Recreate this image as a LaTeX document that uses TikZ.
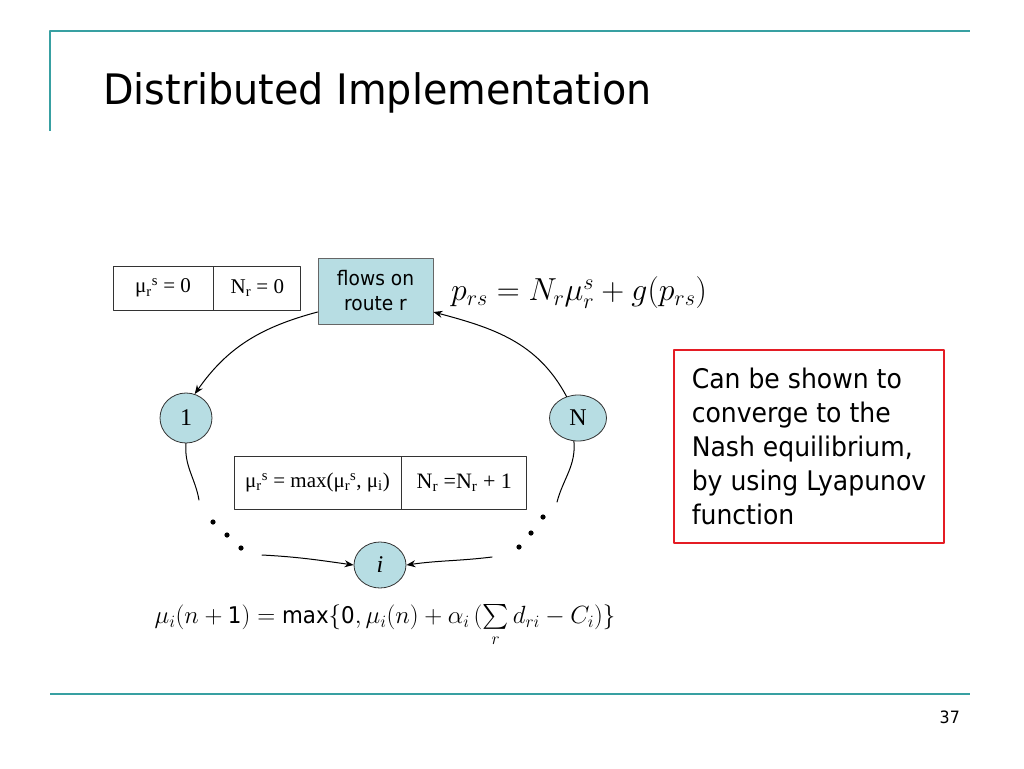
\documentclass[tikz,border=0pt]{standalone}
\usepackage{amsmath}
\usepackage{fontspec}
\usetikzlibrary{arrows.meta,positioning,shapes.geometric}
\newfontfamily\titlefont[FakeStretch=0.945]{DejaVu Sans}
\newfontfamily\bodyfont[FakeStretch=0.93]{DejaVu Sans}
\newfontfamily\timesfont{Liberation Serif}
\definecolor{slideteal}{RGB}{56,160,162}
\definecolor{nodeblue}{RGB}{183,221,227}
\definecolor{boxred}{RGB}{228,28,36}
\newcommand{\mur}{μ\textsubscript{r}\textsuperscript{s}}
\newcommand{\Nr}{N\textsubscript{r}}

\begin{document}
\begin{tikzpicture}[>={Stealth[length=9pt,width=7pt]}, x=1pt, y=-1pt, line cap=round, line join=round,
    every node/.style={inner sep=0pt},
    router/.style={ellipse, draw=black!80, fill=nodeblue, line width=0.8pt, font=\timesfont\fontsize{24}{24}\selectfont},
    cell/.style={rectangle, draw=black!80, line width=0.8pt, font=\timesfont\fontsize{21}{21}\selectfont},
    link/.style={->, line width=1pt}]
    \path[use as bounding box] (0,0) rectangle (1024,768);
    % slide frame
    \draw[slideteal, line width=2.5pt, line cap=butt] (50,131) -- (50,31) -- (970,31);
    \draw[slideteal, line width=2.5pt, line cap=butt] (50,694) -- (970,694);
    \node[font=\titlefont\fontsize{42}{42}\selectfont, anchor=base west] (title) at (103,104) {Distributed Implementation};
    \node[font=\bodyfont\fontsize{17}{17}\selectfont, anchor=base east] (page) at (960,723) {37};
    % route box and price
    \node[rectangle, draw=black!60, fill=nodeblue, line width=0.8pt, minimum width=115pt, minimum height=66pt,
          align=center, font=\bodyfont\fontsize{20}{25}\selectfont] (flow) at (375.5,291) {flows on\\route r};
    \node[anchor=west, font=\fontsize{24}{24}\selectfont] (price) at (451,293) {\scalebox{1.28}{$p_{rs} = N_r\mu_r^s + g(p_{rs})$}};
    \node[cell, minimum width=100pt, minimum height=44pt] (init1) at (163,288) {\mur\ = 0};
    \node[cell, minimum width=87pt, minimum height=44pt, right=0pt of init1] (init2) {\Nr\ = 0};
    % routers
    \node[router, minimum width=52pt, minimum height=50pt] (n1) at (186,418) {1};
    \node[router, minimum width=57pt, minimum height=46pt] (nN) at (578,418) {N};
    \node[router, minimum width=52pt, minimum height=46pt] (ni) at (380,565) {\itshape i};
    \node[cell, minimum width=167pt, minimum height=53pt] (upd1) at (317.5,482.5) {\mur\ = max(\mur, μ\textsubscript{i})};
    \node[cell, minimum width=125pt, minimum height=53pt, font=\timesfont\fontsize{22}{22}\selectfont, right=0pt of upd1] (upd2) {\Nr\ =\Nr\ + 1};
    % ends of the open arcs
    \coordinate (lend) at (199,500);
    \coordinate (rend) at (557,502);
    \coordinate (lstart) at (262,555);
    \coordinate (rstart) at (492,557);
    \draw[link] ([yshift=-21pt]flow.west) to[out=195, in=55] (n1.70);
    \draw[link] (nN.118) to[out=118, in=-15] ([yshift=-21pt]flow.east);
    \draw[line width=1pt] (n1.south) to[out=265, in=100] (lend);
    \draw[line width=1pt] (nN.260) to[out=275, in=75] (rend);
    \foreach \x/\y in {213/522, 227/535, 241/548, 543/517, 531/533, 519/547} \fill (\x,\y) circle (2.6pt);
    \draw[link] (lstart) to[out=-3, in=172] (ni.west);
    \draw[link] (rstart) to[out=187, in=8] (ni.east);
    \node[font=\fontsize{23}{23}\selectfont] (update) at (385,626) {$\mu_i(n+\text{\bodyfont 1}) = \text{\bodyfont max}\{\text{\bodyfont 0}, \mu_i(n) + \alpha_i\,(\sum\limits_r d_{ri} - C_i)\}$};
    % note
    \node[rectangle, draw=boxred, line width=2pt, minimum width=270pt, minimum height=193pt, anchor=north west,
          align=left, font=\bodyfont\fontsize{27}{34}\selectfont] (note) at (673,349)
          {Can be shown to\\converge to the\\Nash equilibrium,\\by using Lyapunov\\function};
\end{tikzpicture}
\end{document}
